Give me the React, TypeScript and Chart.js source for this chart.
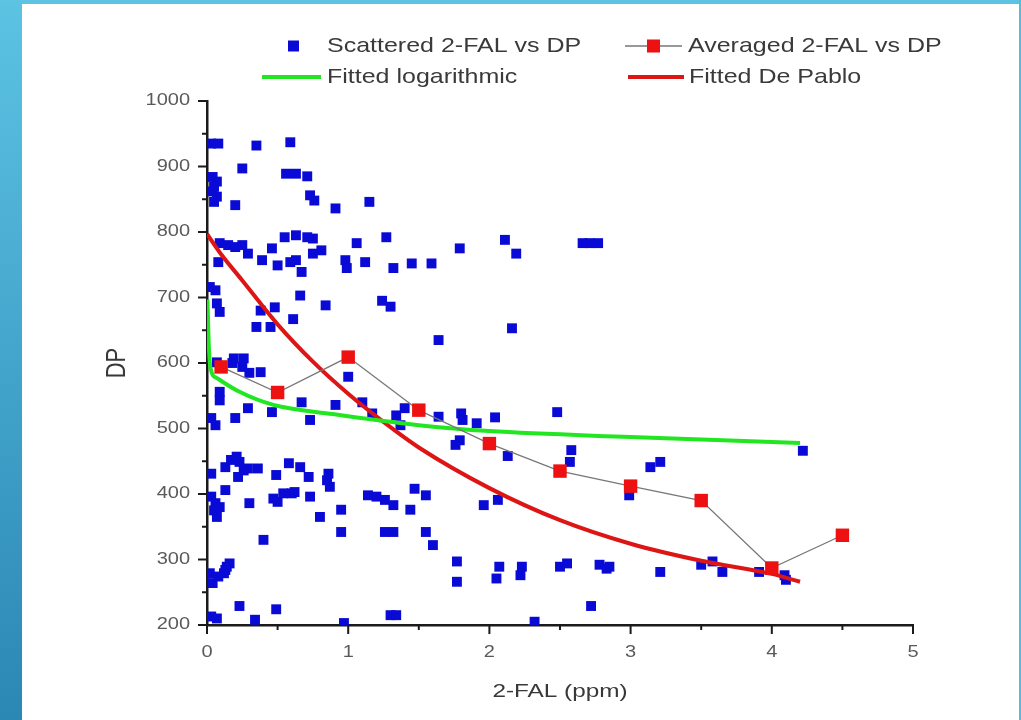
import { useEffect, useRef } from 'react';
import { Chart, registerables } from 'chart.js';
Chart.register(...registerables);

// ---- data ----
const scatterX = [
  0.03, 0.08, 0.35, 0.59, 0.25, 0.56, 0.63, 0.71,
  0.04, 0.07, 0.05, 0.04, 0.07, 0.05,
  0.2, 0.73, 0.76, 0.91, 1.15,
  0.09, 0.15, 0.2, 0.25, 0.08, 0.29, 0.39, 0.46, 0.5,
  0.55, 0.63, 0.71, 0.75, 0.59, 0.63, 0.67, 0.75, 0.81,
  0.98, 0.99, 1.06, 1.12, 1.27, 1.32, 1.45, 1.59,
  0.06, 0.02, 0.07, 0.09, 0.66, 0.48, 0.38, 0.35, 0.45, 0.61, 0.84, 1.24, 1.3, 1.64,
  0.07, 0.19, 0.26,
  0.18, 0.25, 0.3, 0.38, 0.09, 0.09, 0.2, 0.29, 0.03, 0.06, 0.46, 0.67, 0.73, 0.91, 1.0, 1.1, 1.17, 1.34, 1.37, 1.4, 1.64,
  0.03, 0.13, 0.17, 0.21, 0.23, 0.26, 0.22, 0.29, 0.36,
  0.03, 0.06, 0.05, 0.09, 0.07, 0.13, 0.3, 0.4, 0.49, 0.58, 0.66, 0.72, 0.47, 0.5, 0.54, 0.6, 0.62, 0.73, 0.8, 0.86, 0.85, 0.87, 0.95, 0.95, 1.14, 1.2, 1.26, 1.32, 1.26, 1.32, 1.44, 1.47, 1.55, 1.55, 1.6,
  0.02, 0.04, 0.08, 0.12, 0.14, 0.16, 0.13, 0.03, 0.07, 0.23, 0.34, 0.49, 0.97, 1.3, 1.34,
  2.11, 2.19, 1.79, 2.66, 2.71, 2.77, 2.16,
  1.8, 1.81, 1.91, 2.04, 2.48, 1.76, 1.79, 2.13, 2.58, 2.57, 2.99, 3.14, 3.21, 1.96, 2.06,
  1.77, 1.77, 2.07, 2.05, 2.23, 2.22, 2.5, 2.55, 2.78, 2.83, 2.85, 3.21, 3.5, 3.58, 3.65, 3.91, 4.09, 4.1, 4.22, 2.72, 2.32,
];
const scatterY = [
  935, 935, 932, 937, 897, 889, 889, 885,
  884, 877, 869, 862, 854, 846,
  841, 856, 848, 836, 846,
  783, 780, 777, 780, 754, 767, 757, 775, 749,
  792, 795, 792, 790, 754, 757, 739, 767, 772,
  757, 745, 783, 754, 792, 745, 752, 752,
  711, 716, 691, 678, 703, 685, 680, 655, 655, 667, 688, 695, 686, 635,
  601, 607, 607,
  600, 594, 585, 586, 556, 543, 516, 531, 516, 505, 525, 540, 513, 536, 579, 540, 523, 520, 505, 531, 518,
  431, 441, 452, 457, 449, 436, 426, 439, 439,
  396, 386, 375, 380, 365, 406, 386, 330, 429, 447, 441, 426, 393, 388, 401, 401, 403, 396, 365, 431, 421, 411, 376, 342, 398, 396, 391, 383, 342, 342, 376, 408, 398, 342, 322,
  279, 264, 274, 279, 289, 294, 284, 213, 210, 229, 208, 224, 203, 215, 215,
  788, 767, 775, 783, 783, 783, 653,
  523, 513, 508, 517, 525, 475, 482, 458, 467, 449, 398, 441, 449, 383, 391,
  297, 266, 289, 271, 289, 276, 289, 294, 292, 286, 289, 281, 292, 297, 281, 281, 276, 269, 466, 229, 205,
];

const avgX = [0.1, 0.5, 1, 1.5, 2, 2.5, 3, 3.5, 4, 4.5];
const avgY = [594, 555, 609, 528, 477, 435, 412, 390, 287, 337];

const logFitX = [0.003, 0.012, 0.025, 0.07, 0.23, 0.47, 0.89, 1.5, 2, 3, 4.2];
const logFitY = [697, 630, 592, 577, 556, 536, 522, 505, 496, 487, 478];

const pabloFitX = [0, 0.1, 0.25, 0.5, 0.75, 1, 1.25, 1.5, 2, 2.5, 3, 3.5, 4, 4.2];
const pabloFitY = [797, 766, 726, 659, 602, 553, 510, 471, 409, 360, 324, 298, 278, 266];

const xTickLabels = ['0', '1', '2', '3', '4', '5'];
const yTickLabels = ['200', '300', '400', '500', '600', '700', '800', '900', '1000'];

const legendLabels = ['Scattered 2-FAL vs DP', 'Averaged 2-FAL vs DP', 'Fitted logarithmic', 'Fitted De Pablo'];
const xTitle = '2-FAL (ppm)';
const yTitle = 'DP';

// ---- styles ----
const BLUE = '#0a0ad6';
const RED = '#ee1111';
const GREEN = '#22e622';
const FITRED = '#dd1515';
const FONT = '"Liberation Sans", Arial, sans-serif';

const pts = (xs: number[], ys: number[]) => xs.map((x, i) => ({ x, y: ys[i] }));

function stretchText(ctx: CanvasRenderingContext2D, text: string, x: number, y: number, sx: number, align: CanvasTextAlign) {
  ctx.save();
  ctx.translate(x, y);
  ctx.scale(sx, 1);
  ctx.textAlign = align;
  ctx.textBaseline = 'middle';
  ctx.fillText(text, 0, 0);
  ctx.restore();
}

const decor = {
  id: 'decor',
  afterDraw(chart: any) {
    const ctx: CanvasRenderingContext2D = chart.ctx;
    const xs = chart.scales.x;
    const ys = chart.scales.y;
    const ca = chart.chartArea;
    ctx.save();
    // tick marks
    ctx.strokeStyle = '#1a1a1a';
    ctx.lineWidth = 2;
    const xVals = xTickLabels.map(Number);
    for (let i = 0; i < xVals.length; i++) {
      const v = xVals[i];
      const px = xs.getPixelForValue(v);
      ctx.beginPath(); ctx.moveTo(px, ca.bottom); ctx.lineTo(px, ca.bottom + 9); ctx.stroke();
      if (i < xVals.length - 1) {
        const mx = xs.getPixelForValue((v + xVals[i + 1]) / 2);
        ctx.beginPath(); ctx.moveTo(mx, ca.bottom); ctx.lineTo(mx, ca.bottom + 5); ctx.stroke();
      }
    }
    const yVals = yTickLabels.map(Number);
    for (let i = 0; i < yVals.length; i++) {
      const v = yVals[i];
      const py = ys.getPixelForValue(v);
      ctx.beginPath(); ctx.moveTo(ca.left, py); ctx.lineTo(ca.left - 9, py); ctx.stroke();
      if (i < yVals.length - 1) {
        const my = ys.getPixelForValue((v + yVals[i + 1]) / 2);
        ctx.beginPath(); ctx.moveTo(ca.left, my); ctx.lineTo(ca.left - 5, my); ctx.stroke();
      }
    }
    // tick labels
    ctx.fillStyle = '#5a5a5a';
    ctx.font = `16px ${FONT}`;
    xTickLabels.forEach((l) => stretchText(ctx, l, xs.getPixelForValue(Number(l)), ca.bottom + 28, 1.25, 'center'));
    yTickLabels.forEach((l) => stretchText(ctx, l, ca.left - 17, ys.getPixelForValue(Number(l)), 1.25, 'right'));
    // axis titles
    ctx.fillStyle = '#383838';
    ctx.font = `19px ${FONT}`;
    stretchText(ctx, xTitle, (ca.left + ca.right) / 2, ca.bottom + 67, 1.28, 'center');
    ctx.save();
    ctx.translate(117, (ca.top + ca.bottom) / 2);
    ctx.rotate(-Math.PI / 2);
    ctx.scale(1, 1.25);
    ctx.font = `22px ${FONT}`;
    ctx.textAlign = 'center';
    ctx.textBaseline = 'middle';
    ctx.fillText(yTitle, 0, 0);
    ctx.restore();
    // legend
    ctx.font = `21px ${FONT}`;
    ctx.fillStyle = '#3a3a3a';
    const r1 = 46, r2 = 77;
    ctx.fillStyle = BLUE;
    ctx.fillRect(288, r1 - 5.5, 11, 11);
    ctx.strokeStyle = '#777';
    ctx.lineWidth = 1.5;
    ctx.beginPath(); ctx.moveTo(625, r1); ctx.lineTo(682, r1); ctx.stroke();
    ctx.fillStyle = RED;
    ctx.fillRect(647, r1 - 6.5, 13, 13);
    ctx.lineWidth = 4;
    ctx.strokeStyle = GREEN;
    ctx.beginPath(); ctx.moveTo(262, r2); ctx.lineTo(321, r2); ctx.stroke();
    ctx.strokeStyle = FITRED;
    ctx.beginPath(); ctx.moveTo(628, r2); ctx.lineTo(684, r2); ctx.stroke();
    ctx.fillStyle = '#3a3a3a';
    stretchText(ctx, legendLabels[0], 327, r1, 1.19, 'left');
    stretchText(ctx, legendLabels[1], 688, r1, 1.19, 'left');
    stretchText(ctx, legendLabels[2], 327, r2, 1.19, 'left');
    stretchText(ctx, legendLabels[3], 689, r2, 1.19, 'left');
    ctx.restore();
  },
};

export default function App() {
  const ref = useRef<HTMLCanvasElement>(null);
  useEffect(() => {
    const chart = new Chart(ref.current!, {
      type: 'scatter',
      data: {
        datasets: [
          {
            label: legendLabels[1],
            data: pts(avgX, avgY),
            showLine: true,
            borderColor: '#777777',
            borderWidth: 1.3,
            pointStyle: 'rect',
            pointRadius: 9.5,
            pointBackgroundColor: RED,
            pointBorderWidth: 0,
            pointBorderColor: RED,
          } as any,
          {
            label: legendLabels[2],
            data: pts(logFitX, logFitY),
            showLine: true,
            borderColor: GREEN,
            borderWidth: 4,
            pointRadius: 0,
            cubicInterpolationMode: 'monotone',
          } as any,
          {
            label: legendLabels[3],
            data: pts(pabloFitX, pabloFitY),
            showLine: true,
            borderColor: FITRED,
            borderWidth: 4,
            pointRadius: 0,
            cubicInterpolationMode: 'monotone',
          } as any,
          {
            label: legendLabels[0],
            data: pts(scatterX, scatterY),
            pointStyle: 'rect',
            pointRadius: 7,
            pointBackgroundColor: BLUE,
            pointBorderWidth: 0,
            pointBorderColor: BLUE,
          } as any,
        ],
      },
      options: {
        responsive: false,
        animation: false,
        devicePixelRatio: 1,
        layout: { padding: { top: 101, right: 108, left: 0, bottom: 0 } },
        plugins: {
          legend: { display: false },
          tooltip: { enabled: false },
          title: { display: false },
        },
        scales: {
          x: {
            type: 'linear',
            min: 0,
            max: 5,
            grid: { display: false },
            border: { display: true, color: '#1a1a1a', width: 2.5 },
            ticks: { display: false },
            afterFit: (s: any) => { s.height = 95; },
          },
          y: {
            type: 'linear',
            min: 200,
            max: 1000,
            grid: { display: false },
            border: { display: true, color: '#1a1a1a', width: 2.5 },
            ticks: { display: false },
            afterFit: (s: any) => { s.width = 207; },
          },
        },
      } as any,
      plugins: [decor],
    });
    return () => chart.destroy();
  }, []);
  return (
    <div style={{ position: 'fixed', left: 0, top: 0, width: 1021, height: 720, background: '#fff', overflow: 'hidden' }}>
      <div style={{ position: 'absolute', left: 0, top: 0, width: 22, height: 720, background: 'linear-gradient(#5cc3e3, #2b87b4)' }} />
      <div style={{ position: 'absolute', left: 0, top: 0, width: 1021, height: 4, background: '#5cc3e3' }} />
      <div style={{ position: 'absolute', left: 1019, top: 0, width: 2, height: 720, background: '#55bbdf' }} />
      <canvas ref={ref} width={1021} height={720} style={{ position: 'absolute', left: 0, top: 0, display: 'block' }} />
    </div>
  );
}
